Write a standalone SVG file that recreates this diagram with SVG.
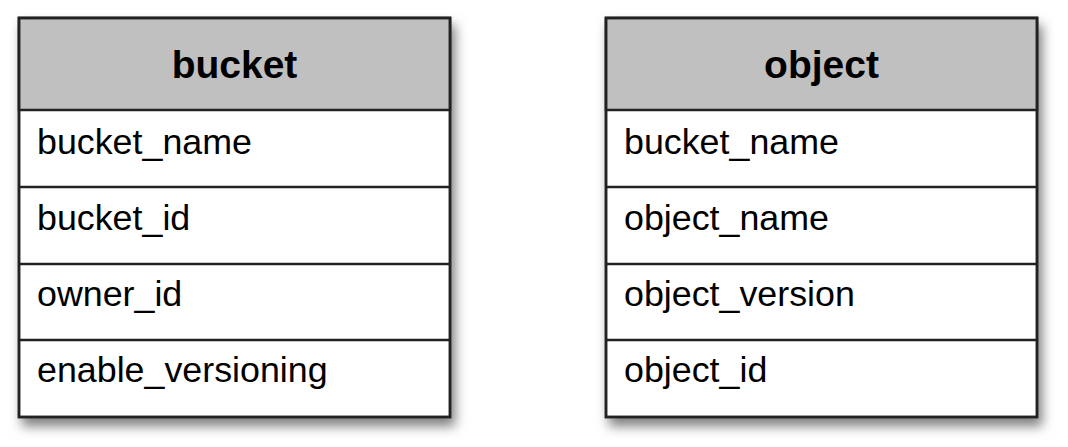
<svg xmlns="http://www.w3.org/2000/svg" width="1068" height="447" viewBox="0 0 1068 447">
<style>
.box{fill:#fff;stroke:#222;stroke-width:2.5}
.hdr{fill:#c0c0c0;stroke:#222;stroke-width:2.5}
.div{stroke:#222;stroke-width:2.5}
.h{font-family:"Liberation Sans",Arial,sans-serif;font-weight:bold;font-size:39px;text-anchor:middle;fill:#000}
.t{font-family:"Liberation Sans",Arial,sans-serif;font-size:35.8px;fill:#000}
</style>
<defs>
<filter id="sh" x="-10%" y="-10%" width="125%" height="130%">
<feDropShadow dx="4" dy="8" stdDeviation="6" flood-color="#000" flood-opacity="0.5"/>
</filter>
</defs>
<rect width="1068" height="447" fill="#fff"/>
<g id="bucket">
<rect class="box" x="19" y="18" width="431" height="399" filter="url(#sh)"/>
<rect class="hdr" x="19" y="18" width="431" height="92"/>
<line class="div" x1="19" y1="187" x2="450" y2="187"/>
<line class="div" x1="19" y1="264" x2="450" y2="264"/>
<line class="div" x1="19" y1="340" x2="450" y2="340"/>
<rect x="19" y="18" width="431" height="399" fill="none" stroke="#222" stroke-width="2.5"/>
<text class="h" x="234.5" y="78">bucket</text>
<text class="t" x="37" y="154">bucket_name</text>
<text class="t" x="37" y="230">bucket_id</text>
<text class="t" x="37" y="306">owner_id</text>
<text class="t" x="37" y="382">enable_versioning</text>
</g>
<g id="object">
<rect class="box" x="606" y="18" width="431" height="399" filter="url(#sh)"/>
<rect class="hdr" x="606" y="18" width="431" height="92"/>
<line class="div" x1="606" y1="187" x2="1037" y2="187"/>
<line class="div" x1="606" y1="264" x2="1037" y2="264"/>
<line class="div" x1="606" y1="340" x2="1037" y2="340"/>
<rect x="606" y="18" width="431" height="399" fill="none" stroke="#222" stroke-width="2.5"/>
<text class="h" x="821.5" y="78">object</text>
<text class="t" x="624" y="154">bucket_name</text>
<text class="t" x="624" y="230">object_name</text>
<text class="t" x="624" y="306">object_version</text>
<text class="t" x="624" y="382">object_id</text>
</g>
<g id="connectors"/>
</svg>
